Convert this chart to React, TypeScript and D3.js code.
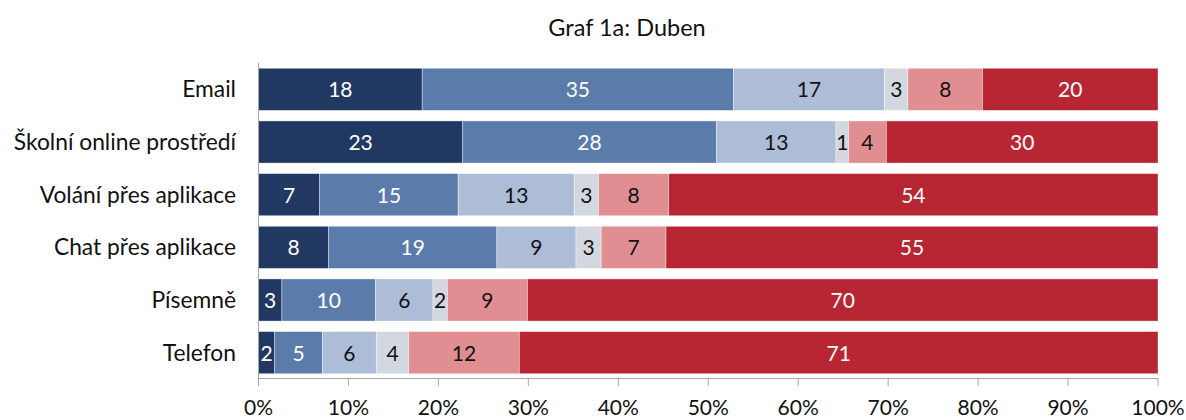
import React from "react";
import * as d3 from "d3";

const categories = [
  "Email",
  "Školní online prostředí",
  "Volání přes aplikace",
  "Chat přes aplikace",
  "Písemně",
  "Telefon",
];

// percentage shares per category (6 segments each)
const series1 = [18.2, 22.7, 6.8, 7.8, 2.6, 1.8];
const series2 = [34.6, 28.2, 15.4, 18.7, 10.4, 5.3];
const series3 = [16.8, 13.3, 12.9, 8.8, 6.4, 6.0];
const series4 = [2.6, 1.4, 2.7, 2.8, 1.6, 3.6];
const series5 = [8.3, 4.2, 7.8, 7.2, 8.9, 12.3];
const series6 = [19.5, 30.2, 54.4, 54.7, 70.1, 71.0];

const tickValues = [0, 10, 20, 30, 40, 50, 60, 70, 80, 90, 100];
const title = "Graf 1a: Duben";

const colors = ["#213862", "#5b7bab", "#adbdd8", "#d3d7e0", "#e08e92", "#b82633"];
const labelColors = ["#ffffff", "#ffffff", "#111111", "#111111", "#111111", "#ffffff"];

const FONT = "Lato, 'Open Sans', sans-serif";

export default function App() {
  const width = 1186;
  const height = 420;
  const allSeries = [series1, series2, series3, series4, series5, series6];

  const x = d3.scaleLinear().domain([0, 100]).range([258.5, 1158]);
  const y = d3.scaleBand().domain(categories).range([63, 379]).paddingInner(0.2).paddingOuter(0.1);

  const rows = categories.map((c, i) => ({ cat: c, ...Object.fromEntries(allSeries.map((s, k) => ["s" + k, s[i]])) }));
  const keys = allSeries.map((_, k) => "s" + k);
  const stacked = d3.stack<any>().keys(keys)(rows);

  return (
    <svg width={width} height={height} style={{ position: "absolute", left: 0, top: 0, background: "#fff" }} fontFamily={FONT}>
      <rect x={0} y={0} width={width} height={height} fill="#fff" />
      <text x={627} y={36} textAnchor="middle" fontSize={23.5} fill="#111">
        {title}
      </text>
      {stacked.map((layer, k) => (
        <g key={k}>
          {layer.map((d: any, i: number) => {
            const x0 = x(d[0]);
            const x1 = x(d[1]);
            const yy = y(categories[i])!;
            const v = d[1] - d[0];
            return (
              <g key={i}>
                <rect x={x0} y={yy} width={x1 - x0} height={y.bandwidth()} fill={colors[k]} stroke="#fff" strokeOpacity={0.5} strokeWidth={0.75} />
                <text
                  x={(x0 + x1) / 2}
                  y={yy + y.bandwidth() / 2 + 8}
                  textAnchor="middle"
                  fontSize={21}
                  fill={labelColors[k]}
                >
                  {Math.round(v)}
                </text>
              </g>
            );
          })}
        </g>
      ))}
      {categories.map((c) => (
        <text key={c} x={236} y={y(c)! + y.bandwidth() / 2 + 8} textAnchor="end" fontSize={22.8} fill="#111">
          {c}
        </text>
      ))}
      <line x1={x(0)} x2={x(0)} y1={63} y2={386} stroke="#a6a6a6" strokeWidth={1} />
      <line x1={x(0)} x2={x(100)} y1={378.5} y2={378.5} stroke="#a6a6a6" strokeWidth={1} />
      {tickValues.map((t) => (
        <g key={t}>
          <line x1={x(t)} x2={x(t)} y1={378.5} y2={386} stroke="#a6a6a6" strokeWidth={1} />
          <text x={x(t)} y={414.5} textAnchor="middle" fontSize={21} fill="#111">
            {t}%
          </text>
        </g>
      ))}
    </svg>
  );
}
